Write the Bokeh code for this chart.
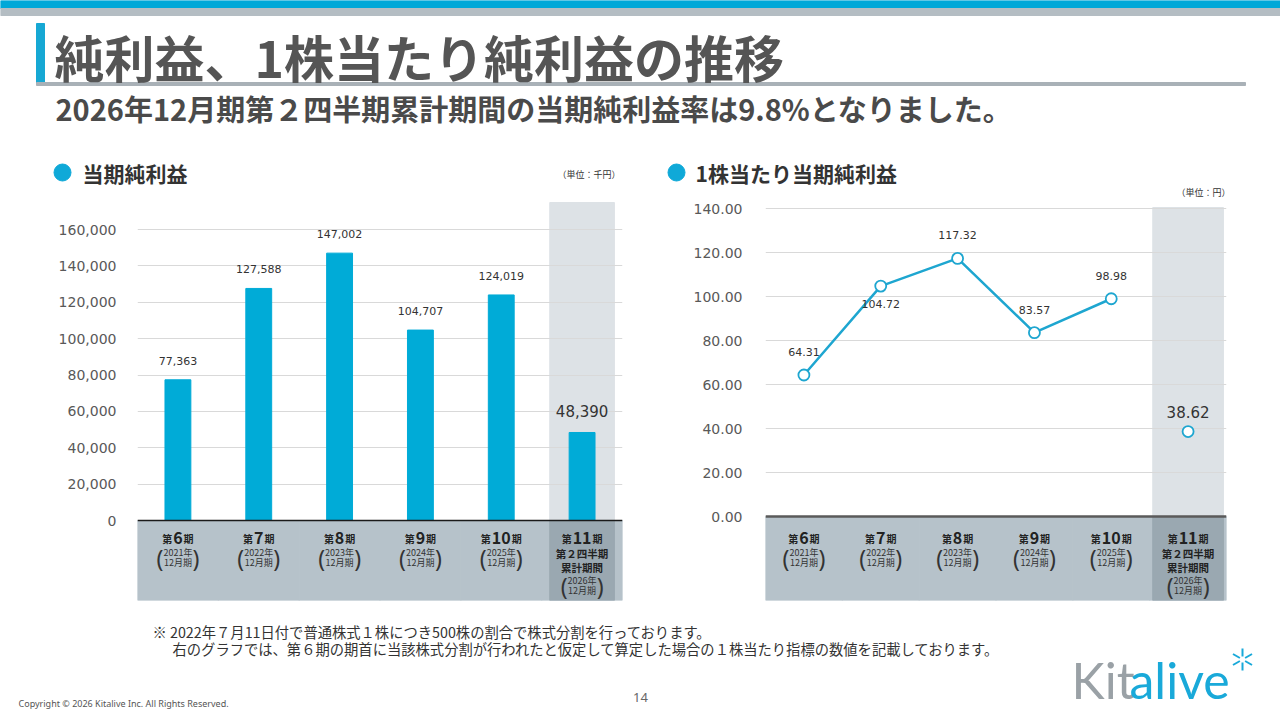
import numpy as np

from bokeh.plotting import figure
from bokeh.layouts import column, row
from bokeh.models import FactorRange, FixedTicker, NumeralTickFormatter, Range1d, Span
from bokeh.core.properties import value
from bokeh.embed import file_html
from bokeh.resources import INLINE

# --- data ---
periods = ["第6期", "第7期", "第8期", "第9期", "第10期", "第11期"]
period_nos = ["6", "7", "8", "9", "10", "11"]
fiscal_years = ["2021年", "2022年", "2023年", "2024年", "2025年", "2026年"]
fiscal_month = "12月期"
last_period_note = ["第２四半期", "累計期間"]
net_income = [77363, 127588, 147002, 104707, 124019, 48390]   # 千円
eps = [64.31, 104.72, 117.32, 83.57, 98.98, 38.62]             # 円
income_ticks = [0, 20000, 40000, 60000, 80000, 100000, 120000, 140000, 160000]
eps_ticks = [0, 20, 40, 60, 80, 100, 120, 140]

# where the eps labels sit (above / below the marker)
eps_label_side = ["above", "below", "above", "above", "above", "above"]

JP = value("Noto Sans CJK JP")
NUM = value("DejaVu Sans")
BLUE = "#00abd7"
LINE_BLUE = "#1ea6d0"
DARK = "#555555"
COL_GRAY = "#dde2e6"
BAND = "#b6c2ca"
BAND_DARK = "#9aa8b1"
HEAD_H = 200


def canvas(w, h, top):
    # plain drawing area where data units == page pixels
    p = figure(width=w, height=h, x_range=Range1d(0, w), y_range=Range1d(top + h, top),
               x_axis_location=None, y_axis_location=None, min_border=0,
               output_backend="svg", toolbar_location=None)
    p.grid.visible = False
    p.outline_line_color = None
    return p


def label(p, x, y, text, size, color="#333333", bold=False, align="left", font=JP):
    p.text(x=[x], y=[y], text=[text], text_font=font, text_font_size=size, text_color=color,
           text_font_style="bold" if bold else "normal", text_align=align, text_baseline="middle")


# ---------------- header ----------------
head = canvas(1280, HEAD_H, 0)
head.quad(left=[0], right=[1280], top=[0], bottom=[8], color="#00a8d8")
head.quad(left=[0], right=[1280], top=[8], bottom=[15], color="#b4bdc3")
head.quad(left=[36], right=[44], top=[23], bottom=[83], color="#16a8d4")
head.quad(left=[36], right=[1245], top=[82], bottom=[85], color="#a9b1b7")
label(head, 54, 55, "純利益、1株当たり純利益の推移", "50px", DARK, bold=True)
label(head, 55, 107, "2026年12月期第２四半期累計期間の当期純利益率は9.8%となりました。", "29px", "#4a4a4a", bold=True)

head.scatter(x=[62, 676], y=[172, 172], size=17, color="#0fa9d8")
label(head, 82, 172, "当期純利益", "21px", "#333333", bold=True)
label(head, 695, 172, "1株当たり当期純利益", "21px", "#333333", bold=True)
label(head, 620, 174, "（単位：千円）", "9px", "#333333", align="right")
label(head, 1230, 192, "（単位：円）", "9px", "#333333", align="right")


# ---------------- charts ----------------
def chart(ticks, fmt, zero_px, top_tick_px, frame_left, frame_right, fig_left, col_w, col_top_px,
          base, zero_color, zero_width, standoff):
    ppu = (zero_px - top_tick_px) / ticks[-1]
    y_hi = (zero_px - HEAD_H) / ppu
    y_lo = -(600 - zero_px) / ppu
    p = figure(width=640, height=608 - HEAD_H, x_range=FactorRange(*periods), y_range=Range1d(y_lo, y_hi),
               x_axis_location=None, min_border_left=frame_left - fig_left,
               min_border_right=fig_left + 640 - frame_right, min_border_top=0, min_border_bottom=8,
               output_backend="svg", toolbar_location=None)
    p.outline_line_color = None
    p.xgrid.visible = False
    p.ygrid.ticker = FixedTicker(ticks=ticks[1:])
    p.ygrid.grid_line_color = "#d9d9d9"
    p.yaxis.ticker = FixedTicker(ticks=ticks)
    p.yaxis.formatter = NumeralTickFormatter(format=fmt)
    p.yaxis.axis_line_color = None
    p.yaxis.major_tick_line_color = None
    p.yaxis.minor_tick_line_color = None
    p.yaxis.major_label_standoff = standoff
    p.yaxis.major_label_text_font = "DejaVu Sans"
    p.yaxis.major_label_text_font_size = "14px"
    p.yaxis.major_label_text_color = "#595959"

    last = periods[-1]
    col_top = min(y_hi, (zero_px - col_top_px) / ppu)
    r = p.vbar(x=[last], top=[col_top], bottom=[0], width=col_w, color=COL_GRAY)
    r.level = "image"
    n = len(periods)
    p.vbar(x=periods, top=[0] * n, bottom=[y_lo] * n, width=1, color=BAND)
    p.vbar(x=[last], top=[0], bottom=[y_lo], width=col_w, color=BAND_DARK)
    p.add_layout(Span(location=0, dimension="width", line_color=zero_color, line_width=zero_width))

    # category labels inside the band
    zeros = [0] * n
    half = [len(s) * 4.7 + 1 for s in period_nos]
    d0 = 17 + base
    p.text(x=periods, y=zeros, text=period_nos, y_offset=d0, text_font=JP, text_font_size="16px",
           text_font_style="bold", text_color="#222222", text_align="center", text_baseline="middle")
    p.text(x=periods, y=zeros, text=["第"] * n, x_offset=[-h for h in half], y_offset=d0 + 1,
           text_font=JP, text_font_size="10px", text_font_style="bold", text_color="#222222",
           text_align="right", text_baseline="middle")
    p.text(x=periods, y=zeros, text=["期"] * n, x_offset=half, y_offset=d0 + 1,
           text_font=JP, text_font_size="10px", text_font_style="bold", text_color="#222222",
           text_align="left", text_baseline="middle")
    p.text(x=[last, last], y=[0, 0], text=last_period_note, y_offset=[d0 + 16, d0 + 30],
           text_font=JP, text_font_size="10.5px", text_font_style="bold", text_color="#222222",
           text_align="center", text_baseline="middle")
    year_dy = [d0 + 15] * (n - 1) + [d0 + 43]
    month_dy = [d + 10 for d in year_dy]
    paren_dy = [d + 5 for d in year_dy]
    p.text(x=periods, y=zeros, text=fiscal_years, y_offset=year_dy, text_font=JP,
           text_font_size="9px", text_color="#333333", text_align="center", text_baseline="middle")
    p.text(x=periods, y=zeros, text=[fiscal_month] * n, y_offset=month_dy, text_font=JP,
           text_font_size="9px", text_color="#333333", text_align="center", text_baseline="middle")
    p.text(x=periods, y=zeros, text=["("] * n, x_offset=-18, y_offset=paren_dy, text_font=value("Noto Sans"),
           text_font_size="23px", text_color="#333333", text_align="center", text_baseline="middle")
    p.text(x=periods, y=zeros, text=[")"] * n, x_offset=18, y_offset=paren_dy, text_font=value("Noto Sans"),
           text_font_size="23px", text_color="#333333", text_align="center", text_baseline="middle")
    return p


left = chart(income_ticks, "0,0", 520, 229, 137, 622, 0, 0.8, 202, 0, "#1a1a1a", 1.5, 15)
left.vbar(x=periods, top=net_income, width=0.32, color=BLUE)
inc_labels = [f"{v:,}" for v in net_income]
left.text(x=periods, y=net_income, text=inc_labels, y_offset=[-19] * 5 + [-21], text_font=NUM,
          text_font_size=["11px"] * 5 + ["15px"], text_color="#333333", text_align="center",
          text_baseline="middle")

right = chart(eps_ticks, "0.00", 516, 208, 765, 1226, 640, 0.92, 207, 4, "#5a5a5a", 2.5, 17)
right.line(x=periods[:-1], y=eps[:-1], line_width=2.5, color=LINE_BLUE)
right.scatter(x=periods, y=eps, size=11, fill_color="white", line_color=LINE_BLUE, line_width=1.8)
eps_dy = [-23 if s == "above" else 18 for s in eps_label_side]
eps_dy[-1] = -20
right.text(x=periods, y=eps, text=[f"{v:.2f}" for v in eps], y_offset=eps_dy, text_font=NUM,
           text_font_size=["11px"] * 5 + ["15px"], text_color="#333333", text_align="center",
           text_baseline="middle")

# ---------------- footer ----------------
foot = canvas(1280, 112, 608)
label(foot, 152, 631, "※ 2022年７月11日付で普通株式１株につき500株の割合で株式分割を行っております。", "14.3px", "#333333")
label(foot, 172, 648, "右のグラフでは、第６期の期首に当該株式分割が行われたと仮定して算定した場合の１株当たり指標の数値を記載しております。", "14.3px", "#333333")
label(foot, 18, 703, "Copyright © 2026 Kitalive Inc. All Rights Reserved.", "9px", "#555555", font=value("Noto Sans"))
label(foot, 640, 697, "14", "13px", "#666666", align="center", font=value("Noto Sans"))
label(foot, 1071, 679, "Kit", "50px", "#9aa1a6", font=value("Lato"))
label(foot, 1129, 679, "alive", "50px", "#19a9d9", font=value("Lato"))
ang = np.radians([90, 30, -30, -90, -150, 150])
cx, cy = 1242, 659
foot.segment(x0=cx + 3 * np.cos(ang), y0=cy - 3 * np.sin(ang), x1=cx + 11 * np.cos(ang),
             y1=cy - 11 * np.sin(ang), line_color="#19a9d9", line_width=2)

layout = column(head, row(left, right), foot)
open("out.html", "w").write(file_html(layout, INLINE))
